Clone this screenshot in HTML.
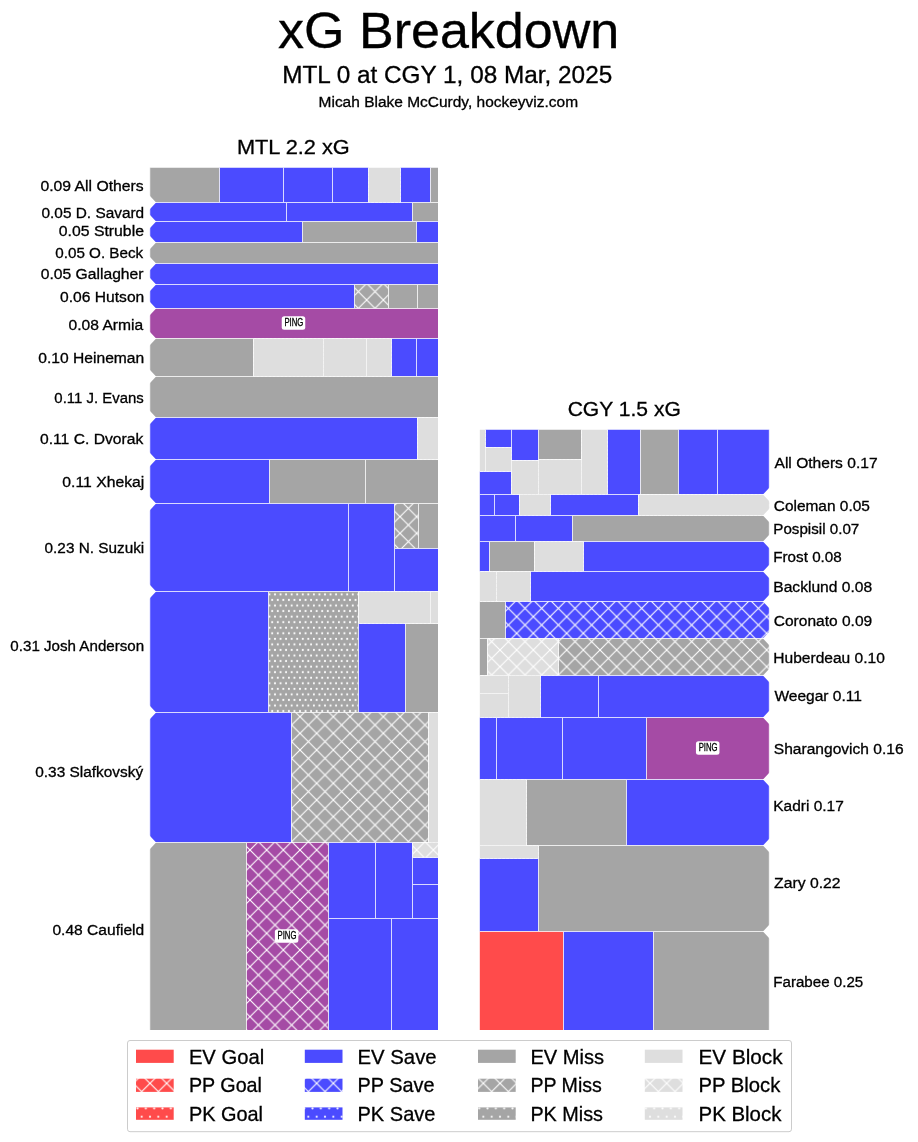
<!DOCTYPE html>
<html><head><meta charset="utf-8"><title>xG Breakdown</title>
<style>html,body{margin:0;padding:0;background:#fff;}svg{display:block;will-change:transform;}text{font-family:"Liberation Sans",sans-serif;stroke:#000;stroke-width:0.3px;}</style></head>
<body><svg width="918" height="1142" viewBox="0 0 918 1142">
<rect width="918" height="1142" fill="#fff"/>
<text x="277.98" y="47.80" font-size="50.01" textLength="341.32" lengthAdjust="spacingAndGlyphs" fill="#000">xG Breakdown</text>
<text x="282.15" y="82.80" font-size="23.54" textLength="330.07" lengthAdjust="spacingAndGlyphs" fill="#000">MTL 0 at CGY 1, 08 Mar, 2025</text>
<text x="318.56" y="106.70" font-size="14.72" textLength="259.48" lengthAdjust="spacingAndGlyphs" fill="#000">Micah Blake McCurdy, hockeyviz.com</text>
<text x="236.96" y="154.00" font-size="20.60" textLength="112.80" lengthAdjust="spacingAndGlyphs" fill="#000">MTL 2.2 xG</text>
<text x="567.65" y="416.10" font-size="20.60" textLength="113.18" lengthAdjust="spacingAndGlyphs" fill="#000">CGY 1.5 xG</text>
<defs>
<pattern id="lxb" patternUnits="userSpaceOnUse" width="16.6667" height="16.6667"><rect width="16.6667" height="16.6667" fill="#4b4bff"/><path d="M0 0L16.6667 16.6667M0 16.6667L16.6667 0" stroke="#ffffff" stroke-width="1.1"/></pattern>
<pattern id="ldb" patternUnits="userSpaceOnUse" width="8.3333" height="16.6667"><rect width="8.3333" height="16.6667" fill="#4b4bff"/><circle cx="0" cy="0" r="1.1" fill="#ffffff"/><circle cx="8.3333" cy="0" r="1.1" fill="#ffffff"/><circle cx="0" cy="16.6667" r="1.1" fill="#ffffff"/><circle cx="8.3333" cy="16.6667" r="1.1" fill="#ffffff"/><circle cx="4.1667" cy="8.3333" r="1.1" fill="#ffffff"/></pattern>
<pattern id="lxg" patternUnits="userSpaceOnUse" width="16.6667" height="16.6667"><rect width="16.6667" height="16.6667" fill="#a5a5a5"/><path d="M0 0L16.6667 16.6667M0 16.6667L16.6667 0" stroke="#ffffff" stroke-width="1.1"/></pattern>
<pattern id="ldg" patternUnits="userSpaceOnUse" width="8.3333" height="16.6667"><rect width="8.3333" height="16.6667" fill="#a5a5a5"/><circle cx="0" cy="0" r="1.1" fill="#ffffff"/><circle cx="8.3333" cy="0" r="1.1" fill="#ffffff"/><circle cx="0" cy="16.6667" r="1.1" fill="#ffffff"/><circle cx="8.3333" cy="16.6667" r="1.1" fill="#ffffff"/><circle cx="4.1667" cy="8.3333" r="1.1" fill="#ffffff"/></pattern>
<pattern id="lxl" patternUnits="userSpaceOnUse" width="16.6667" height="16.6667"><rect width="16.6667" height="16.6667" fill="#dedede"/><path d="M0 0L16.6667 16.6667M0 16.6667L16.6667 0" stroke="#ffffff" stroke-width="1.1"/></pattern>
<pattern id="ldl" patternUnits="userSpaceOnUse" width="8.3333" height="16.6667"><rect width="8.3333" height="16.6667" fill="#dedede"/><circle cx="0" cy="0" r="1.1" fill="#ffffff"/><circle cx="8.3333" cy="0" r="1.1" fill="#ffffff"/><circle cx="0" cy="16.6667" r="1.1" fill="#ffffff"/><circle cx="8.3333" cy="16.6667" r="1.1" fill="#ffffff"/><circle cx="4.1667" cy="8.3333" r="1.1" fill="#ffffff"/></pattern>
<pattern id="lxr" patternUnits="userSpaceOnUse" width="16.6667" height="16.6667"><rect width="16.6667" height="16.6667" fill="#ff4b4b"/><path d="M0 0L16.6667 16.6667M0 16.6667L16.6667 0" stroke="#ffffff" stroke-width="1.1"/></pattern>
<pattern id="ldr" patternUnits="userSpaceOnUse" width="8.3333" height="16.6667"><rect width="8.3333" height="16.6667" fill="#ff4b4b"/><circle cx="0" cy="0" r="1.1" fill="#ffffff"/><circle cx="8.3333" cy="0" r="1.1" fill="#ffffff"/><circle cx="0" cy="16.6667" r="1.1" fill="#ffffff"/><circle cx="8.3333" cy="16.6667" r="1.1" fill="#ffffff"/><circle cx="4.1667" cy="8.3333" r="1.1" fill="#ffffff"/></pattern>
<pattern id="lxp" patternUnits="userSpaceOnUse" width="16.6667" height="16.6667"><rect width="16.6667" height="16.6667" fill="#a54ba5"/><path d="M0 0L16.6667 16.6667M0 16.6667L16.6667 0" stroke="#ffffff" stroke-width="1.1"/></pattern>
<pattern id="ldp" patternUnits="userSpaceOnUse" width="8.3333" height="16.6667"><rect width="8.3333" height="16.6667" fill="#a54ba5"/><circle cx="0" cy="0" r="1.1" fill="#ffffff"/><circle cx="8.3333" cy="0" r="1.1" fill="#ffffff"/><circle cx="0" cy="16.6667" r="1.1" fill="#ffffff"/><circle cx="8.3333" cy="16.6667" r="1.1" fill="#ffffff"/><circle cx="4.1667" cy="8.3333" r="1.1" fill="#ffffff"/></pattern>
</defs>
<defs>
<pattern id="xb" patternUnits="userSpaceOnUse" width="16.6667" height="16.6667"><rect width="16.6667" height="16.6667" fill="#4b4bff"/><path d="M0 0L16.6667 16.6667M0 16.6667L16.6667 0M-1 1L1 -1M15.6667 17.6667L17.6667 15.6667" stroke="#ffffff" stroke-width="1.1"/></pattern>
<pattern id="db" patternUnits="userSpaceOnUse" width="5.5556" height="11.1111"><rect width="5.5556" height="11.1111" fill="#4b4bff"/><circle cx="0" cy="0" r="1.05" fill="#ffffff"/><circle cx="5.5556" cy="0" r="1.05" fill="#ffffff"/><circle cx="0" cy="11.1111" r="1.05" fill="#ffffff"/><circle cx="5.5556" cy="11.1111" r="1.05" fill="#ffffff"/><circle cx="2.7778" cy="5.5556" r="1.05" fill="#ffffff"/></pattern>
<pattern id="xg" patternUnits="userSpaceOnUse" width="16.6667" height="16.6667"><rect width="16.6667" height="16.6667" fill="#a5a5a5"/><path d="M0 0L16.6667 16.6667M0 16.6667L16.6667 0M-1 1L1 -1M15.6667 17.6667L17.6667 15.6667" stroke="#ffffff" stroke-width="1.1"/></pattern>
<pattern id="dg" patternUnits="userSpaceOnUse" width="5.5556" height="11.1111"><rect width="5.5556" height="11.1111" fill="#a5a5a5"/><circle cx="0" cy="0" r="1.05" fill="#ffffff"/><circle cx="5.5556" cy="0" r="1.05" fill="#ffffff"/><circle cx="0" cy="11.1111" r="1.05" fill="#ffffff"/><circle cx="5.5556" cy="11.1111" r="1.05" fill="#ffffff"/><circle cx="2.7778" cy="5.5556" r="1.05" fill="#ffffff"/></pattern>
<pattern id="xl" patternUnits="userSpaceOnUse" width="16.6667" height="16.6667"><rect width="16.6667" height="16.6667" fill="#dedede"/><path d="M0 0L16.6667 16.6667M0 16.6667L16.6667 0M-1 1L1 -1M15.6667 17.6667L17.6667 15.6667" stroke="#ffffff" stroke-width="1.1"/></pattern>
<pattern id="dl" patternUnits="userSpaceOnUse" width="5.5556" height="11.1111"><rect width="5.5556" height="11.1111" fill="#dedede"/><circle cx="0" cy="0" r="1.05" fill="#ffffff"/><circle cx="5.5556" cy="0" r="1.05" fill="#ffffff"/><circle cx="0" cy="11.1111" r="1.05" fill="#ffffff"/><circle cx="5.5556" cy="11.1111" r="1.05" fill="#ffffff"/><circle cx="2.7778" cy="5.5556" r="1.05" fill="#ffffff"/></pattern>
<pattern id="xr" patternUnits="userSpaceOnUse" width="16.6667" height="16.6667"><rect width="16.6667" height="16.6667" fill="#ff4b4b"/><path d="M0 0L16.6667 16.6667M0 16.6667L16.6667 0M-1 1L1 -1M15.6667 17.6667L17.6667 15.6667" stroke="#ffffff" stroke-width="1.1"/></pattern>
<pattern id="dr" patternUnits="userSpaceOnUse" width="5.5556" height="11.1111"><rect width="5.5556" height="11.1111" fill="#ff4b4b"/><circle cx="0" cy="0" r="1.05" fill="#ffffff"/><circle cx="5.5556" cy="0" r="1.05" fill="#ffffff"/><circle cx="0" cy="11.1111" r="1.05" fill="#ffffff"/><circle cx="5.5556" cy="11.1111" r="1.05" fill="#ffffff"/><circle cx="2.7778" cy="5.5556" r="1.05" fill="#ffffff"/></pattern>
<pattern id="xp" patternUnits="userSpaceOnUse" width="16.6667" height="16.6667"><rect width="16.6667" height="16.6667" fill="#a54ba5"/><path d="M0 0L16.6667 16.6667M0 16.6667L16.6667 0M-1 1L1 -1M15.6667 17.6667L17.6667 15.6667" stroke="#ffffff" stroke-width="1.1"/></pattern>
<pattern id="dp" patternUnits="userSpaceOnUse" width="5.5556" height="11.1111"><rect width="5.5556" height="11.1111" fill="#a54ba5"/><circle cx="0" cy="0" r="1.05" fill="#ffffff"/><circle cx="5.5556" cy="0" r="1.05" fill="#ffffff"/><circle cx="0" cy="11.1111" r="1.05" fill="#ffffff"/><circle cx="5.5556" cy="11.1111" r="1.05" fill="#ffffff"/><circle cx="2.7778" cy="5.5556" r="1.05" fill="#ffffff"/></pattern>
</defs>
<clipPath id="chartclip"><rect x="130" y="167.8" width="308.00" height="862.20"/><rect x="479.8" y="429.7" width="310.20" height="600.30"/></clipPath>
<g clip-path="url(#chartclip)">
<rect x="149.80" y="164.80" width="69.70" height="37.70" fill="#a5a5a5"/>
<rect x="219.50" y="164.80" width="64.00" height="37.70" fill="#4b4bff"/>
<rect x="283.50" y="164.80" width="49.00" height="37.70" fill="#4b4bff"/>
<rect x="332.50" y="164.80" width="36.00" height="37.70" fill="#4b4bff"/>
<rect x="368.50" y="164.80" width="32.00" height="37.70" fill="#dedede"/>
<rect x="400.50" y="164.80" width="30.00" height="37.70" fill="#4b4bff"/>
<rect x="430.50" y="164.80" width="10.50" height="37.70" fill="#a5a5a5"/>
<rect x="149.80" y="202.50" width="136.70" height="19.00" fill="#4b4bff"/>
<rect x="286.50" y="202.50" width="126.00" height="19.00" fill="#4b4bff"/>
<rect x="412.50" y="202.50" width="28.50" height="19.00" fill="#a5a5a5"/>
<rect x="149.80" y="221.50" width="152.70" height="21.00" fill="#4b4bff"/>
<rect x="302.50" y="221.50" width="114.00" height="21.00" fill="#a5a5a5"/>
<rect x="416.50" y="221.50" width="24.50" height="21.00" fill="#4b4bff"/>
<rect x="149.80" y="242.50" width="291.20" height="21.00" fill="#a5a5a5"/>
<rect x="149.80" y="263.50" width="291.20" height="21.00" fill="#4b4bff"/>
<rect x="149.80" y="284.50" width="204.70" height="24.00" fill="#4b4bff"/>
<rect x="354.50" y="284.50" width="34.00" height="24.00" fill="url(#xg)"/>
<rect x="388.50" y="284.50" width="29.00" height="24.00" fill="#a5a5a5"/>
<rect x="417.50" y="284.50" width="23.50" height="24.00" fill="#a5a5a5"/>
<rect x="149.80" y="308.50" width="291.20" height="30.00" fill="#a54ba5"/>
<rect x="149.80" y="338.50" width="103.70" height="38.00" fill="#a5a5a5"/>
<rect x="253.50" y="338.50" width="70.00" height="38.00" fill="#dedede"/>
<rect x="323.50" y="338.50" width="43.00" height="38.00" fill="#dedede"/>
<rect x="366.50" y="338.50" width="25.00" height="38.00" fill="#dedede"/>
<rect x="391.50" y="338.50" width="25.00" height="38.00" fill="#4b4bff"/>
<rect x="416.50" y="338.50" width="24.50" height="38.00" fill="#4b4bff"/>
<rect x="149.80" y="376.50" width="291.20" height="41.00" fill="#a5a5a5"/>
<rect x="149.80" y="417.50" width="267.70" height="42.00" fill="#4b4bff"/>
<rect x="417.50" y="417.50" width="23.50" height="42.00" fill="#dedede"/>
<rect x="149.80" y="459.50" width="119.70" height="44.00" fill="#4b4bff"/>
<rect x="269.50" y="459.50" width="96.00" height="44.00" fill="#a5a5a5"/>
<rect x="365.50" y="459.50" width="75.50" height="44.00" fill="#a5a5a5"/>
<rect x="149.80" y="503.50" width="198.70" height="88.00" fill="#4b4bff"/>
<rect x="348.50" y="503.50" width="46.00" height="88.00" fill="#4b4bff"/>
<rect x="394.50" y="503.50" width="24.00" height="45.00" fill="url(#xg)"/>
<rect x="418.50" y="503.50" width="22.50" height="45.00" fill="#a5a5a5"/>
<rect x="394.50" y="548.50" width="46.50" height="43.00" fill="#4b4bff"/>
<rect x="149.80" y="591.50" width="118.70" height="121.00" fill="#4b4bff"/>
<rect x="268.50" y="591.50" width="90.00" height="121.00" fill="url(#dg)"/>
<rect x="358.50" y="591.50" width="72.00" height="32.00" fill="#dedede"/>
<rect x="430.50" y="591.50" width="10.50" height="32.00" fill="#dedede"/>
<rect x="358.50" y="623.50" width="47.00" height="89.00" fill="#4b4bff"/>
<rect x="405.50" y="623.50" width="35.50" height="89.00" fill="#a5a5a5"/>
<rect x="149.80" y="712.50" width="141.70" height="130.00" fill="#4b4bff"/>
<rect x="291.50" y="712.50" width="137.00" height="130.00" fill="url(#xg)"/>
<rect x="428.50" y="712.50" width="12.50" height="130.00" fill="#dedede"/>
<rect x="149.80" y="842.50" width="96.70" height="190.50" fill="#a5a5a5"/>
<rect x="246.50" y="842.50" width="82.00" height="190.50" fill="url(#xp)"/>
<rect x="328.50" y="842.50" width="47.00" height="76.00" fill="#4b4bff"/>
<rect x="375.50" y="842.50" width="37.00" height="76.00" fill="#4b4bff"/>
<rect x="412.50" y="842.50" width="28.50" height="15.00" fill="url(#xl)"/>
<rect x="412.50" y="857.50" width="28.50" height="27.00" fill="#4b4bff"/>
<rect x="412.50" y="884.50" width="28.50" height="34.00" fill="#4b4bff"/>
<rect x="328.50" y="918.50" width="63.00" height="114.50" fill="#4b4bff"/>
<rect x="391.50" y="918.50" width="49.50" height="114.50" fill="#4b4bff"/>
<rect x="476.80" y="426.70" width="8.70" height="44.80" fill="#dedede"/>
<rect x="485.50" y="426.70" width="26.00" height="20.80" fill="#4b4bff"/>
<rect x="485.50" y="447.50" width="26.00" height="24.00" fill="#dedede"/>
<rect x="476.80" y="471.50" width="34.70" height="23.00" fill="#4b4bff"/>
<rect x="511.50" y="426.70" width="27.00" height="33.80" fill="#4b4bff"/>
<rect x="511.50" y="460.50" width="27.00" height="34.00" fill="#dedede"/>
<rect x="538.50" y="426.70" width="43.00" height="32.80" fill="#a5a5a5"/>
<rect x="538.50" y="459.50" width="43.00" height="35.00" fill="#dedede"/>
<rect x="581.50" y="426.70" width="26.00" height="67.80" fill="#dedede"/>
<rect x="607.50" y="426.70" width="33.00" height="67.80" fill="#4b4bff"/>
<rect x="640.50" y="426.70" width="38.00" height="67.80" fill="#a5a5a5"/>
<rect x="678.50" y="426.70" width="39.00" height="67.80" fill="#4b4bff"/>
<rect x="717.50" y="426.70" width="51.80" height="67.80" fill="#4b4bff"/>
<rect x="476.80" y="494.50" width="17.70" height="21.00" fill="#4b4bff"/>
<rect x="494.50" y="494.50" width="25.00" height="21.00" fill="#4b4bff"/>
<rect x="519.50" y="494.50" width="31.00" height="21.00" fill="#dedede"/>
<rect x="550.50" y="494.50" width="88.00" height="21.00" fill="#4b4bff"/>
<rect x="638.50" y="494.50" width="130.80" height="21.00" fill="#dedede"/>
<rect x="476.80" y="515.50" width="38.70" height="26.00" fill="#4b4bff"/>
<rect x="515.50" y="515.50" width="57.00" height="26.00" fill="#4b4bff"/>
<rect x="572.50" y="515.50" width="196.80" height="26.00" fill="#a5a5a5"/>
<rect x="476.80" y="541.50" width="12.70" height="30.00" fill="#4b4bff"/>
<rect x="489.50" y="541.50" width="45.00" height="30.00" fill="#a5a5a5"/>
<rect x="534.50" y="541.50" width="49.00" height="30.00" fill="#dedede"/>
<rect x="583.50" y="541.50" width="185.80" height="30.00" fill="#4b4bff"/>
<rect x="476.80" y="571.50" width="19.70" height="30.00" fill="#dedede"/>
<rect x="496.50" y="571.50" width="34.00" height="30.00" fill="#dedede"/>
<rect x="530.50" y="571.50" width="238.80" height="30.00" fill="#4b4bff"/>
<rect x="476.80" y="601.50" width="28.70" height="37.00" fill="#a5a5a5"/>
<rect x="505.50" y="601.50" width="263.80" height="37.00" fill="url(#xb)"/>
<rect x="476.80" y="638.50" width="10.70" height="37.00" fill="#a5a5a5"/>
<rect x="487.50" y="638.50" width="71.00" height="37.00" fill="url(#xl)"/>
<rect x="558.50" y="638.50" width="210.80" height="37.00" fill="url(#xg)"/>
<rect x="476.80" y="675.50" width="31.70" height="18.00" fill="#dedede"/>
<rect x="476.80" y="693.50" width="31.70" height="24.00" fill="#dedede"/>
<rect x="508.50" y="675.50" width="32.00" height="42.00" fill="#dedede"/>
<rect x="540.50" y="675.50" width="58.00" height="42.00" fill="#4b4bff"/>
<rect x="598.50" y="675.50" width="170.80" height="42.00" fill="#4b4bff"/>
<rect x="476.80" y="717.50" width="19.70" height="62.00" fill="#4b4bff"/>
<rect x="496.50" y="717.50" width="66.00" height="62.00" fill="#4b4bff"/>
<rect x="562.50" y="717.50" width="84.00" height="62.00" fill="#4b4bff"/>
<rect x="646.50" y="717.50" width="122.80" height="62.00" fill="#a54ba5"/>
<rect x="476.80" y="779.50" width="49.70" height="66.00" fill="#dedede"/>
<rect x="526.50" y="779.50" width="100.00" height="66.00" fill="#a5a5a5"/>
<rect x="626.50" y="779.50" width="142.80" height="66.00" fill="#4b4bff"/>
<rect x="476.80" y="845.50" width="61.70" height="13.00" fill="#dedede"/>
<rect x="476.80" y="858.50" width="61.70" height="73.00" fill="#4b4bff"/>
<rect x="538.50" y="845.50" width="230.80" height="86.00" fill="#a5a5a5"/>
<rect x="476.80" y="931.50" width="86.70" height="101.50" fill="#ff4b4b"/>
<rect x="563.50" y="931.50" width="90.00" height="101.50" fill="#4b4bff"/>
<rect x="653.50" y="931.50" width="115.80" height="101.50" fill="#a5a5a5"/>
<g opacity="0.5">
<rect x="368.50" y="164.80" width="32.00" height="37.70" fill="none" stroke="#ffffff" stroke-width="1" stroke-dasharray="3 1"/>
<rect x="253.50" y="338.50" width="70.00" height="38.00" fill="none" stroke="#ffffff" stroke-width="1" stroke-dasharray="3 1"/>
<rect x="323.50" y="338.50" width="43.00" height="38.00" fill="none" stroke="#ffffff" stroke-width="1" stroke-dasharray="3 1"/>
<rect x="366.50" y="338.50" width="25.00" height="38.00" fill="none" stroke="#ffffff" stroke-width="1" stroke-dasharray="3 1"/>
<rect x="417.50" y="417.50" width="23.50" height="42.00" fill="none" stroke="#ffffff" stroke-width="1" stroke-dasharray="3 1"/>
<rect x="358.50" y="591.50" width="72.00" height="32.00" fill="none" stroke="#ffffff" stroke-width="1" stroke-dasharray="3 1"/>
<rect x="430.50" y="591.50" width="10.50" height="32.00" fill="none" stroke="#ffffff" stroke-width="1" stroke-dasharray="3 1"/>
<rect x="428.50" y="712.50" width="12.50" height="130.00" fill="none" stroke="#ffffff" stroke-width="1" stroke-dasharray="3 1"/>
<rect x="412.50" y="842.50" width="28.50" height="15.00" fill="none" stroke="#ffffff" stroke-width="1" stroke-dasharray="3 1"/>
<rect x="476.80" y="426.70" width="8.70" height="44.80" fill="none" stroke="#ffffff" stroke-width="1" stroke-dasharray="3 1"/>
<rect x="485.50" y="447.50" width="26.00" height="24.00" fill="none" stroke="#ffffff" stroke-width="1" stroke-dasharray="3 1"/>
<rect x="511.50" y="460.50" width="27.00" height="34.00" fill="none" stroke="#ffffff" stroke-width="1" stroke-dasharray="3 1"/>
<rect x="538.50" y="459.50" width="43.00" height="35.00" fill="none" stroke="#ffffff" stroke-width="1" stroke-dasharray="3 1"/>
<rect x="581.50" y="426.70" width="26.00" height="67.80" fill="none" stroke="#ffffff" stroke-width="1" stroke-dasharray="3 1"/>
<rect x="519.50" y="494.50" width="31.00" height="21.00" fill="none" stroke="#ffffff" stroke-width="1" stroke-dasharray="3 1"/>
<rect x="638.50" y="494.50" width="130.80" height="21.00" fill="none" stroke="#ffffff" stroke-width="1" stroke-dasharray="3 1"/>
<rect x="534.50" y="541.50" width="49.00" height="30.00" fill="none" stroke="#ffffff" stroke-width="1" stroke-dasharray="3 1"/>
<rect x="476.80" y="571.50" width="19.70" height="30.00" fill="none" stroke="#ffffff" stroke-width="1" stroke-dasharray="3 1"/>
<rect x="496.50" y="571.50" width="34.00" height="30.00" fill="none" stroke="#ffffff" stroke-width="1" stroke-dasharray="3 1"/>
<rect x="487.50" y="638.50" width="71.00" height="37.00" fill="none" stroke="#ffffff" stroke-width="1" stroke-dasharray="3 1"/>
<rect x="476.80" y="675.50" width="31.70" height="18.00" fill="none" stroke="#ffffff" stroke-width="1" stroke-dasharray="3 1"/>
<rect x="476.80" y="693.50" width="31.70" height="24.00" fill="none" stroke="#ffffff" stroke-width="1" stroke-dasharray="3 1"/>
<rect x="508.50" y="675.50" width="32.00" height="42.00" fill="none" stroke="#ffffff" stroke-width="1" stroke-dasharray="3 1"/>
<rect x="476.80" y="779.50" width="49.70" height="66.00" fill="none" stroke="#ffffff" stroke-width="1" stroke-dasharray="3 1"/>
<rect x="476.80" y="845.50" width="61.70" height="13.00" fill="none" stroke="#ffffff" stroke-width="1" stroke-dasharray="3 1"/>
</g>
<g opacity="0.72">
<rect x="149.80" y="164.80" width="69.70" height="37.70" fill="none" stroke="#ffffff" stroke-width="1"/>
<rect x="219.50" y="164.80" width="64.00" height="37.70" fill="none" stroke="#ffffff" stroke-width="1"/>
<rect x="283.50" y="164.80" width="49.00" height="37.70" fill="none" stroke="#ffffff" stroke-width="1"/>
<rect x="332.50" y="164.80" width="36.00" height="37.70" fill="none" stroke="#ffffff" stroke-width="1"/>
<rect x="400.50" y="164.80" width="30.00" height="37.70" fill="none" stroke="#ffffff" stroke-width="1"/>
<rect x="430.50" y="164.80" width="10.50" height="37.70" fill="none" stroke="#ffffff" stroke-width="1"/>
<rect x="149.80" y="202.50" width="136.70" height="19.00" fill="none" stroke="#ffffff" stroke-width="1"/>
<rect x="286.50" y="202.50" width="126.00" height="19.00" fill="none" stroke="#ffffff" stroke-width="1"/>
<rect x="412.50" y="202.50" width="28.50" height="19.00" fill="none" stroke="#ffffff" stroke-width="1"/>
<rect x="149.80" y="221.50" width="152.70" height="21.00" fill="none" stroke="#ffffff" stroke-width="1"/>
<rect x="302.50" y="221.50" width="114.00" height="21.00" fill="none" stroke="#ffffff" stroke-width="1"/>
<rect x="416.50" y="221.50" width="24.50" height="21.00" fill="none" stroke="#ffffff" stroke-width="1"/>
<rect x="149.80" y="242.50" width="291.20" height="21.00" fill="none" stroke="#ffffff" stroke-width="1"/>
<rect x="149.80" y="263.50" width="291.20" height="21.00" fill="none" stroke="#ffffff" stroke-width="1"/>
<rect x="149.80" y="284.50" width="204.70" height="24.00" fill="none" stroke="#ffffff" stroke-width="1"/>
<rect x="354.50" y="284.50" width="34.00" height="24.00" fill="none" stroke="#ffffff" stroke-width="1"/>
<rect x="388.50" y="284.50" width="29.00" height="24.00" fill="none" stroke="#ffffff" stroke-width="1"/>
<rect x="417.50" y="284.50" width="23.50" height="24.00" fill="none" stroke="#ffffff" stroke-width="1"/>
<rect x="149.80" y="308.50" width="291.20" height="30.00" fill="none" stroke="#ffffff" stroke-width="1"/>
<rect x="149.80" y="338.50" width="103.70" height="38.00" fill="none" stroke="#ffffff" stroke-width="1"/>
<rect x="391.50" y="338.50" width="25.00" height="38.00" fill="none" stroke="#ffffff" stroke-width="1"/>
<rect x="416.50" y="338.50" width="24.50" height="38.00" fill="none" stroke="#ffffff" stroke-width="1"/>
<rect x="149.80" y="376.50" width="291.20" height="41.00" fill="none" stroke="#ffffff" stroke-width="1"/>
<rect x="149.80" y="417.50" width="267.70" height="42.00" fill="none" stroke="#ffffff" stroke-width="1"/>
<rect x="149.80" y="459.50" width="119.70" height="44.00" fill="none" stroke="#ffffff" stroke-width="1"/>
<rect x="269.50" y="459.50" width="96.00" height="44.00" fill="none" stroke="#ffffff" stroke-width="1"/>
<rect x="365.50" y="459.50" width="75.50" height="44.00" fill="none" stroke="#ffffff" stroke-width="1"/>
<rect x="149.80" y="503.50" width="198.70" height="88.00" fill="none" stroke="#ffffff" stroke-width="1"/>
<rect x="348.50" y="503.50" width="46.00" height="88.00" fill="none" stroke="#ffffff" stroke-width="1"/>
<rect x="394.50" y="503.50" width="24.00" height="45.00" fill="none" stroke="#ffffff" stroke-width="1"/>
<rect x="418.50" y="503.50" width="22.50" height="45.00" fill="none" stroke="#ffffff" stroke-width="1"/>
<rect x="394.50" y="548.50" width="46.50" height="43.00" fill="none" stroke="#ffffff" stroke-width="1"/>
<rect x="149.80" y="591.50" width="118.70" height="121.00" fill="none" stroke="#ffffff" stroke-width="1"/>
<rect x="268.50" y="591.50" width="90.00" height="121.00" fill="none" stroke="#ffffff" stroke-width="1"/>
<rect x="358.50" y="623.50" width="47.00" height="89.00" fill="none" stroke="#ffffff" stroke-width="1"/>
<rect x="405.50" y="623.50" width="35.50" height="89.00" fill="none" stroke="#ffffff" stroke-width="1"/>
<rect x="149.80" y="712.50" width="141.70" height="130.00" fill="none" stroke="#ffffff" stroke-width="1"/>
<rect x="291.50" y="712.50" width="137.00" height="130.00" fill="none" stroke="#ffffff" stroke-width="1"/>
<rect x="149.80" y="842.50" width="96.70" height="190.50" fill="none" stroke="#ffffff" stroke-width="1"/>
<rect x="246.50" y="842.50" width="82.00" height="190.50" fill="none" stroke="#ffffff" stroke-width="1"/>
<rect x="328.50" y="842.50" width="47.00" height="76.00" fill="none" stroke="#ffffff" stroke-width="1"/>
<rect x="375.50" y="842.50" width="37.00" height="76.00" fill="none" stroke="#ffffff" stroke-width="1"/>
<rect x="412.50" y="857.50" width="28.50" height="27.00" fill="none" stroke="#ffffff" stroke-width="1"/>
<rect x="412.50" y="884.50" width="28.50" height="34.00" fill="none" stroke="#ffffff" stroke-width="1"/>
<rect x="328.50" y="918.50" width="63.00" height="114.50" fill="none" stroke="#ffffff" stroke-width="1"/>
<rect x="391.50" y="918.50" width="49.50" height="114.50" fill="none" stroke="#ffffff" stroke-width="1"/>
<rect x="485.50" y="426.70" width="26.00" height="20.80" fill="none" stroke="#ffffff" stroke-width="1"/>
<rect x="476.80" y="471.50" width="34.70" height="23.00" fill="none" stroke="#ffffff" stroke-width="1"/>
<rect x="511.50" y="426.70" width="27.00" height="33.80" fill="none" stroke="#ffffff" stroke-width="1"/>
<rect x="538.50" y="426.70" width="43.00" height="32.80" fill="none" stroke="#ffffff" stroke-width="1"/>
<rect x="607.50" y="426.70" width="33.00" height="67.80" fill="none" stroke="#ffffff" stroke-width="1"/>
<rect x="640.50" y="426.70" width="38.00" height="67.80" fill="none" stroke="#ffffff" stroke-width="1"/>
<rect x="678.50" y="426.70" width="39.00" height="67.80" fill="none" stroke="#ffffff" stroke-width="1"/>
<rect x="717.50" y="426.70" width="51.80" height="67.80" fill="none" stroke="#ffffff" stroke-width="1"/>
<rect x="476.80" y="494.50" width="17.70" height="21.00" fill="none" stroke="#ffffff" stroke-width="1"/>
<rect x="494.50" y="494.50" width="25.00" height="21.00" fill="none" stroke="#ffffff" stroke-width="1"/>
<rect x="550.50" y="494.50" width="88.00" height="21.00" fill="none" stroke="#ffffff" stroke-width="1"/>
<rect x="476.80" y="515.50" width="38.70" height="26.00" fill="none" stroke="#ffffff" stroke-width="1"/>
<rect x="515.50" y="515.50" width="57.00" height="26.00" fill="none" stroke="#ffffff" stroke-width="1"/>
<rect x="572.50" y="515.50" width="196.80" height="26.00" fill="none" stroke="#ffffff" stroke-width="1"/>
<rect x="476.80" y="541.50" width="12.70" height="30.00" fill="none" stroke="#ffffff" stroke-width="1"/>
<rect x="489.50" y="541.50" width="45.00" height="30.00" fill="none" stroke="#ffffff" stroke-width="1"/>
<rect x="583.50" y="541.50" width="185.80" height="30.00" fill="none" stroke="#ffffff" stroke-width="1"/>
<rect x="530.50" y="571.50" width="238.80" height="30.00" fill="none" stroke="#ffffff" stroke-width="1"/>
<rect x="476.80" y="601.50" width="28.70" height="37.00" fill="none" stroke="#ffffff" stroke-width="1"/>
<rect x="505.50" y="601.50" width="263.80" height="37.00" fill="none" stroke="#ffffff" stroke-width="1"/>
<rect x="476.80" y="638.50" width="10.70" height="37.00" fill="none" stroke="#ffffff" stroke-width="1"/>
<rect x="558.50" y="638.50" width="210.80" height="37.00" fill="none" stroke="#ffffff" stroke-width="1"/>
<rect x="540.50" y="675.50" width="58.00" height="42.00" fill="none" stroke="#ffffff" stroke-width="1"/>
<rect x="598.50" y="675.50" width="170.80" height="42.00" fill="none" stroke="#ffffff" stroke-width="1"/>
<rect x="476.80" y="717.50" width="19.70" height="62.00" fill="none" stroke="#ffffff" stroke-width="1"/>
<rect x="496.50" y="717.50" width="66.00" height="62.00" fill="none" stroke="#ffffff" stroke-width="1"/>
<rect x="562.50" y="717.50" width="84.00" height="62.00" fill="none" stroke="#ffffff" stroke-width="1"/>
<rect x="646.50" y="717.50" width="122.80" height="62.00" fill="none" stroke="#ffffff" stroke-width="1"/>
<rect x="526.50" y="779.50" width="100.00" height="66.00" fill="none" stroke="#ffffff" stroke-width="1"/>
<rect x="626.50" y="779.50" width="142.80" height="66.00" fill="none" stroke="#ffffff" stroke-width="1"/>
<rect x="476.80" y="858.50" width="61.70" height="73.00" fill="none" stroke="#ffffff" stroke-width="1"/>
<rect x="538.50" y="845.50" width="230.80" height="86.00" fill="none" stroke="#ffffff" stroke-width="1"/>
<rect x="476.80" y="931.50" width="86.70" height="101.50" fill="none" stroke="#ffffff" stroke-width="1"/>
<rect x="563.50" y="931.50" width="90.00" height="101.50" fill="none" stroke="#ffffff" stroke-width="1"/>
<rect x="653.50" y="931.50" width="115.80" height="101.50" fill="none" stroke="#ffffff" stroke-width="1"/>
</g>
</g>
</g>
<polygon points="146.80,203.00 156.10,203.00 156.10,202.50 149.80,195.70 146.80,192.70" fill="#fff"/>
<polygon points="146.80,202.00 156.10,202.00 156.10,202.50 149.80,209.30 146.80,212.30" fill="#fff"/>
<polygon points="146.80,222.00 156.10,222.00 156.10,221.50 149.80,214.70 146.80,211.70" fill="#fff"/>
<polygon points="146.80,221.00 156.10,221.00 156.10,221.50 149.80,228.30 146.80,231.30" fill="#fff"/>
<polygon points="146.80,243.00 156.10,243.00 156.10,242.50 149.80,235.70 146.80,232.70" fill="#fff"/>
<polygon points="146.80,242.00 156.10,242.00 156.10,242.50 149.80,249.30 146.80,252.30" fill="#fff"/>
<polygon points="146.80,264.00 156.10,264.00 156.10,263.50 149.80,256.70 146.80,253.70" fill="#fff"/>
<polygon points="146.80,263.00 156.10,263.00 156.10,263.50 149.80,270.30 146.80,273.30" fill="#fff"/>
<polygon points="146.80,285.00 156.10,285.00 156.10,284.50 149.80,277.70 146.80,274.70" fill="#fff"/>
<polygon points="146.80,284.00 156.10,284.00 156.10,284.50 149.80,291.30 146.80,294.30" fill="#fff"/>
<polygon points="146.80,309.00 156.10,309.00 156.10,308.50 149.80,301.70 146.80,298.70" fill="#fff"/>
<polygon points="146.80,308.00 156.10,308.00 156.10,308.50 149.80,315.30 146.80,318.30" fill="#fff"/>
<polygon points="146.80,339.00 156.10,339.00 156.10,338.50 149.80,331.70 146.80,328.70" fill="#fff"/>
<polygon points="146.80,338.00 156.10,338.00 156.10,338.50 149.80,345.30 146.80,348.30" fill="#fff"/>
<polygon points="146.80,377.00 156.10,377.00 156.10,376.50 149.80,369.70 146.80,366.70" fill="#fff"/>
<polygon points="146.80,376.00 156.10,376.00 156.10,376.50 149.80,383.30 146.80,386.30" fill="#fff"/>
<polygon points="146.80,418.00 156.10,418.00 156.10,417.50 149.80,410.70 146.80,407.70" fill="#fff"/>
<polygon points="146.80,417.00 156.10,417.00 156.10,417.50 149.80,424.30 146.80,427.30" fill="#fff"/>
<polygon points="146.80,460.00 156.10,460.00 156.10,459.50 149.80,452.70 146.80,449.70" fill="#fff"/>
<polygon points="146.80,459.00 156.10,459.00 156.10,459.50 149.80,466.30 146.80,469.30" fill="#fff"/>
<polygon points="146.80,504.00 156.10,504.00 156.10,503.50 149.80,496.70 146.80,493.70" fill="#fff"/>
<polygon points="146.80,503.00 156.10,503.00 156.10,503.50 149.80,510.30 146.80,513.30" fill="#fff"/>
<polygon points="146.80,592.00 156.10,592.00 156.10,591.50 149.80,584.70 146.80,581.70" fill="#fff"/>
<polygon points="146.80,591.00 156.10,591.00 156.10,591.50 149.80,598.30 146.80,601.30" fill="#fff"/>
<polygon points="146.80,713.00 156.10,713.00 156.10,712.50 149.80,705.70 146.80,702.70" fill="#fff"/>
<polygon points="146.80,712.00 156.10,712.00 156.10,712.50 149.80,719.30 146.80,722.30" fill="#fff"/>
<polygon points="146.80,843.00 156.10,843.00 156.10,842.50 149.80,835.70 146.80,832.70" fill="#fff"/>
<polygon points="146.80,842.00 156.10,842.00 156.10,842.50 149.80,849.30 146.80,852.30" fill="#fff"/>
<polygon points="772.30,495.00 763.00,495.00 763.00,494.50 769.30,487.70 772.30,484.70" fill="#fff"/>
<polygon points="772.30,494.00 763.00,494.00 763.00,494.50 769.30,501.30 772.30,504.30" fill="#fff"/>
<polygon points="772.30,516.00 763.00,516.00 763.00,515.50 769.30,508.70 772.30,505.70" fill="#fff"/>
<polygon points="772.30,515.00 763.00,515.00 763.00,515.50 769.30,522.30 772.30,525.30" fill="#fff"/>
<polygon points="772.30,542.00 763.00,542.00 763.00,541.50 769.30,534.70 772.30,531.70" fill="#fff"/>
<polygon points="772.30,541.00 763.00,541.00 763.00,541.50 769.30,548.30 772.30,551.30" fill="#fff"/>
<polygon points="772.30,572.00 763.00,572.00 763.00,571.50 769.30,564.70 772.30,561.70" fill="#fff"/>
<polygon points="772.30,571.00 763.00,571.00 763.00,571.50 769.30,578.30 772.30,581.30" fill="#fff"/>
<polygon points="772.30,602.00 763.00,602.00 763.00,601.50 769.30,594.70 772.30,591.70" fill="#fff"/>
<polygon points="772.30,601.00 763.00,601.00 763.00,601.50 769.30,608.30 772.30,611.30" fill="#fff"/>
<polygon points="772.30,639.00 763.00,639.00 763.00,638.50 769.30,631.70 772.30,628.70" fill="#fff"/>
<polygon points="772.30,638.00 763.00,638.00 763.00,638.50 769.30,645.30 772.30,648.30" fill="#fff"/>
<polygon points="772.30,676.00 763.00,676.00 763.00,675.50 769.30,668.70 772.30,665.70" fill="#fff"/>
<polygon points="772.30,675.00 763.00,675.00 763.00,675.50 769.30,682.30 772.30,685.30" fill="#fff"/>
<polygon points="772.30,718.00 763.00,718.00 763.00,717.50 769.30,710.70 772.30,707.70" fill="#fff"/>
<polygon points="772.30,717.00 763.00,717.00 763.00,717.50 769.30,724.30 772.30,727.30" fill="#fff"/>
<polygon points="772.30,780.00 763.00,780.00 763.00,779.50 769.30,772.70 772.30,769.70" fill="#fff"/>
<polygon points="772.30,779.00 763.00,779.00 763.00,779.50 769.30,786.30 772.30,789.30" fill="#fff"/>
<polygon points="772.30,846.00 763.00,846.00 763.00,845.50 769.30,838.70 772.30,835.70" fill="#fff"/>
<polygon points="772.30,845.00 763.00,845.00 763.00,845.50 769.30,852.30 772.30,855.30" fill="#fff"/>
<polygon points="772.30,932.00 763.00,932.00 763.00,931.50 769.30,924.70 772.30,921.70" fill="#fff"/>
<polygon points="772.30,931.00 763.00,931.00 763.00,931.50 769.30,938.30 772.30,941.30" fill="#fff"/>
<rect x="281.75" y="316.35" width="23.5" height="13.5" rx="2.5" fill="#fff"/><text x="284.43" y="326.40" font-size="10.60" textLength="18.90" lengthAdjust="spacingAndGlyphs" fill="#000">PING</text>
<rect x="274.85" y="929.35" width="23.5" height="13.5" rx="2.5" fill="#fff"/><text x="277.53" y="939.40" font-size="10.60" textLength="18.90" lengthAdjust="spacingAndGlyphs" fill="#000">PING</text>
<rect x="695.95" y="741.25" width="23.5" height="13.5" rx="2.5" fill="#fff"/><text x="698.63" y="751.30" font-size="10.60" textLength="18.90" lengthAdjust="spacingAndGlyphs" fill="#000">PING</text>
<text x="40.48" y="190.60" font-size="14.72" textLength="103.26" lengthAdjust="spacingAndGlyphs" fill="#000">0.09 All Others</text>
<text x="41.53" y="217.60" font-size="14.72" textLength="102.67" lengthAdjust="spacingAndGlyphs" fill="#000">0.05 D. Savard</text>
<text x="58.81" y="236.40" font-size="14.72" textLength="85.14" lengthAdjust="spacingAndGlyphs" fill="#000">0.05 Struble</text>
<text x="55.22" y="257.55" font-size="14.72" textLength="87.99" lengthAdjust="spacingAndGlyphs" fill="#000">0.05 O. Beck</text>
<text x="40.76" y="278.50" font-size="14.72" textLength="102.76" lengthAdjust="spacingAndGlyphs" fill="#000">0.05 Gallagher</text>
<text x="60.07" y="301.90" font-size="14.72" textLength="84.19" lengthAdjust="spacingAndGlyphs" fill="#000">0.06 Hutson</text>
<text x="68.54" y="329.50" font-size="14.72" textLength="74.67" lengthAdjust="spacingAndGlyphs" fill="#000">0.08 Armia</text>
<text x="38.26" y="362.70" font-size="14.72" textLength="105.99" lengthAdjust="spacingAndGlyphs" fill="#000">0.10 Heineman</text>
<text x="54.33" y="403.10" font-size="14.72" textLength="89.39" lengthAdjust="spacingAndGlyphs" fill="#000">0.11 J. Evans</text>
<text x="40.00" y="443.60" font-size="14.72" textLength="103.21" lengthAdjust="spacingAndGlyphs" fill="#000">0.11 C. Dvorak</text>
<text x="62.36" y="486.50" font-size="14.72" textLength="81.91" lengthAdjust="spacingAndGlyphs" fill="#000">0.11 Xhekaj</text>
<text x="44.59" y="552.70" font-size="14.72" textLength="99.66" lengthAdjust="spacingAndGlyphs" fill="#000">0.23 N. Suzuki</text>
<text x="10.36" y="650.90" font-size="14.72" textLength="133.82" lengthAdjust="spacingAndGlyphs" fill="#000">0.31 Josh Anderson</text>
<text x="35.21" y="776.60" font-size="14.72" textLength="107.96" lengthAdjust="spacingAndGlyphs" fill="#000">0.33 Slafkovský</text>
<text x="52.43" y="934.90" font-size="14.72" textLength="91.83" lengthAdjust="spacingAndGlyphs" fill="#000">0.48 Caufield</text>
<text x="774.50" y="467.95" font-size="14.72" textLength="103.07" lengthAdjust="spacingAndGlyphs" fill="#000">All Others 0.17</text>
<text x="773.73" y="510.90" font-size="14.72" textLength="96.21" lengthAdjust="spacingAndGlyphs" fill="#000">Coleman 0.05</text>
<text x="773.29" y="533.80" font-size="14.72" textLength="86.01" lengthAdjust="spacingAndGlyphs" fill="#000">Pospisil 0.07</text>
<text x="773.28" y="561.90" font-size="14.72" textLength="68.46" lengthAdjust="spacingAndGlyphs" fill="#000">Frost 0.08</text>
<text x="773.25" y="591.80" font-size="14.72" textLength="98.94" lengthAdjust="spacingAndGlyphs" fill="#000">Backlund 0.08</text>
<text x="773.72" y="625.80" font-size="14.72" textLength="98.48" lengthAdjust="spacingAndGlyphs" fill="#000">Coronato 0.09</text>
<text x="773.25" y="662.95" font-size="14.72" textLength="111.63" lengthAdjust="spacingAndGlyphs" fill="#000">Huberdeau 0.10</text>
<text x="774.42" y="701.40" font-size="14.72" textLength="87.50" lengthAdjust="spacingAndGlyphs" fill="#000">Weegar 0.11</text>
<text x="773.80" y="754.00" font-size="14.72" textLength="129.87" lengthAdjust="spacingAndGlyphs" fill="#000">Sharangovich 0.16</text>
<text x="773.26" y="810.80" font-size="14.72" textLength="70.54" lengthAdjust="spacingAndGlyphs" fill="#000">Kadri 0.17</text>
<text x="774.03" y="888.00" font-size="14.72" textLength="66.53" lengthAdjust="spacingAndGlyphs" fill="#000">Zary 0.22</text>
<text x="773.29" y="986.60" font-size="14.72" textLength="89.93" lengthAdjust="spacingAndGlyphs" fill="#000">Farabee 0.25</text>
<rect x="127.5" y="1040.5" width="664" height="91.2" rx="2.5" fill="#fff" stroke="#cccccc" stroke-width="1"/>
<rect x="136.0" y="1049.7" width="37.7" height="13.2" fill="#ff4b4b"/>
<text x="188.88" y="1063.70" font-size="20.60" textLength="75.34" lengthAdjust="spacingAndGlyphs" fill="#000">EV Goal</text>
<rect x="136.0" y="1078.7" width="37.7" height="13.2" fill="url(#lxr)"/>
<text x="188.92" y="1092.00" font-size="20.60" textLength="73.06" lengthAdjust="spacingAndGlyphs" fill="#000">PP Goal</text>
<rect x="136.0" y="1107.4" width="37.7" height="12.4" fill="url(#ldr)"/>
<text x="188.91" y="1120.90" font-size="20.60" textLength="74.12" lengthAdjust="spacingAndGlyphs" fill="#000">PK Goal</text>
<rect x="304.8" y="1049.7" width="37.7" height="13.2" fill="#4b4bff"/>
<text x="357.47" y="1063.70" font-size="20.60" textLength="79.16" lengthAdjust="spacingAndGlyphs" fill="#000">EV Save</text>
<rect x="304.8" y="1078.7" width="37.7" height="13.2" fill="url(#lxb)"/>
<text x="357.51" y="1092.00" font-size="20.60" textLength="77.00" lengthAdjust="spacingAndGlyphs" fill="#000">PP Save</text>
<rect x="304.8" y="1107.4" width="37.7" height="12.4" fill="url(#ldb)"/>
<text x="357.50" y="1120.90" font-size="20.60" textLength="77.96" lengthAdjust="spacingAndGlyphs" fill="#000">PK Save</text>
<rect x="478.0" y="1049.7" width="37.7" height="13.2" fill="#a5a5a5"/>
<text x="530.39" y="1063.70" font-size="20.60" textLength="73.70" lengthAdjust="spacingAndGlyphs" fill="#000">EV Miss</text>
<rect x="478.0" y="1078.7" width="37.7" height="13.2" fill="url(#lxg)"/>
<text x="530.43" y="1092.00" font-size="20.60" textLength="71.44" lengthAdjust="spacingAndGlyphs" fill="#000">PP Miss</text>
<rect x="478.0" y="1107.4" width="37.7" height="12.4" fill="url(#ldg)"/>
<text x="530.42" y="1120.90" font-size="20.60" textLength="72.59" lengthAdjust="spacingAndGlyphs" fill="#000">PK Miss</text>
<rect x="644.8" y="1049.7" width="37.7" height="13.2" fill="#dedede"/>
<text x="698.54" y="1063.70" font-size="20.60" textLength="84.03" lengthAdjust="spacingAndGlyphs" fill="#000">EV Block</text>
<rect x="644.8" y="1078.7" width="37.7" height="13.2" fill="url(#lxl)"/>
<text x="698.58" y="1092.00" font-size="20.60" textLength="81.79" lengthAdjust="spacingAndGlyphs" fill="#000">PP Block</text>
<rect x="644.8" y="1107.4" width="37.7" height="12.4" fill="url(#ldl)"/>
<text x="698.57" y="1120.90" font-size="20.60" textLength="82.84" lengthAdjust="spacingAndGlyphs" fill="#000">PK Block</text>
</svg></body></html>
